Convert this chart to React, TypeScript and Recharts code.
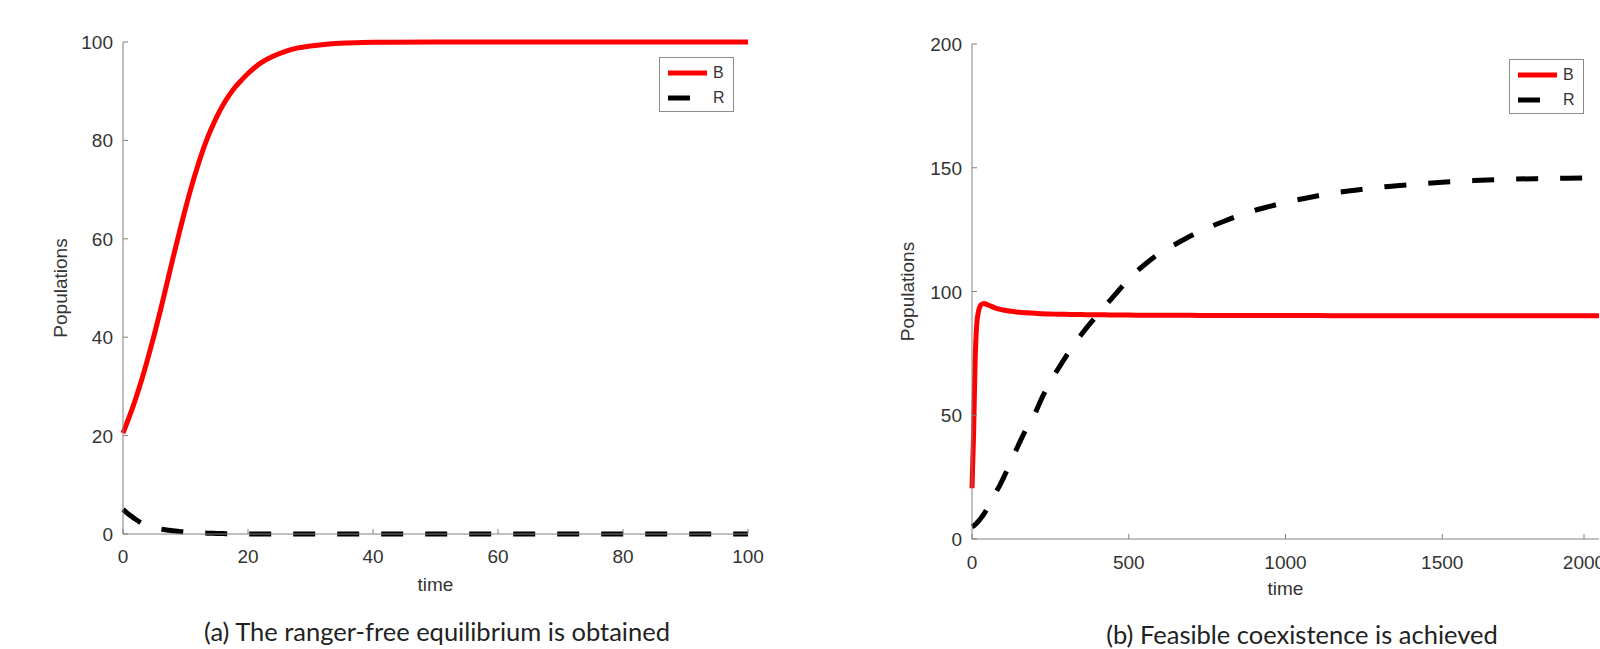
import { LineChart, Line, XAxis, YAxis, Legend, Label } from 'recharts'

const FONT = '"Liberation Sans", Arial, Helvetica, sans-serif'
const AXIS = '#808080'
const TEXT = '#333333'

// panel (a): ranger-free equilibrium
const timeA = [0, 1, 2, 3, 4, 5, 6, 7, 8, 9, 10, 11, 12, 13, 14, 15, 16, 17, 18, 19, 20, 22, 24, 26, 28, 30, 33, 36, 40, 50, 60, 70, 80, 90, 100]
const bA = [20.5, 23.8, 27.4, 31.4, 35.8, 40.5, 45.5, 50.8, 56.1, 61.2, 66.2, 70.8, 75, 78.8, 82, 84.8, 87.2, 89.2, 90.9, 92.3, 93.6, 95.7, 97.1, 98.1, 98.8, 99.2, 99.6, 99.8, 99.95, 100, 100, 100, 100, 100, 100]
const rA = [5, 3.9, 3, 2.2, 1.6, 1.3, 1, 0.8, 0.65, 0.5, 0.4, 0.3, 0.25, 0.2, 0.15, 0.1, 0.08, 0.06, 0.05, 0.04, 0.02, 0, 0, 0, 0, 0, 0, 0, 0, 0, 0, 0, 0, 0, 0]
const xTicksA = [0, 20, 40, 60, 80, 100]
const yTicksA = [0, 20, 40, 60, 80, 100]

// panel (b): coexistence
const timeB = [0, 5, 10, 15, 20, 25, 30, 38, 50, 60, 75, 90, 100, 125, 150, 175, 200, 225, 250, 275, 300, 325, 350, 375, 400, 425, 450, 500, 550, 600, 650, 700, 750, 800, 850, 900, 950, 1000, 1100, 1200, 1300, 1400, 1500, 1600, 1700, 1800, 1900, 2000]
const bB = [20.5, 42, 72, 86.5, 91.5, 93.9, 94.8, 95.2, 94.6, 94.1, 93.3, 92.8, 92.5, 92, 91.6, 91.4, 91.2, 91, 90.9, 90.8, 90.8, 90.7, 90.7, 90.6, 90.6, 90.6, 90.5, 90.5, 90.4, 90.4, 90.4, 90.4, 90.3, 90.3, 90.3, 90.3, 90.3, 90.3, 90.3, 90.2, 90.2, 90.2, 90.2, 90.2, 90.2, 90.2, 90.2, 90.2]
const rB = [5, 5.3, 5.8, 6.4, 7.1, 7.9, 8.7, 10.1, 12.6, 15, 18.6, 22, 24.6, 31.5, 38.5, 45, 50.5, 57.5, 63.5, 68.8, 73.8, 78.5, 82.8, 86.8, 90.5, 94.2, 97.8, 105, 110.8, 115.6, 119.2, 122.6, 125.6, 128.2, 130.6, 132.7, 134.4, 136, 138.6, 140.6, 142.1, 143.2, 144.1, 144.8, 145.3, 145.6, 145.8, 146]
const xTicksB = [0, 500, 1000, 1500, 2000]
const yTicksB = [0, 50, 100, 150, 200]

const dataA = timeA.map((t, i) => ({ t, B: bA[i], R: rA[i] }))
const dataB = timeB.map((t, i) => ({ t, B: bB[i], R: rB[i] }))

function XTick({ x, y, payload, gap }: any) {
  return (
    <g>
      <line x1={x} y1={y} x2={x} y2={y - 5} stroke={AXIS} />
      <text x={x} y={y + gap} textAnchor="middle" fill={TEXT} fontSize={19} fontFamily={FONT}>
        {payload.value}
      </text>
    </g>
  )
}

function YTick({ x, y, payload }: any) {
  return (
    <g>
      <line x1={x} y1={y} x2={x + 5} y2={y} stroke={AXIS} />
      <text x={x - 10} y={y + 7} textAnchor="end" fill={TEXT} fontSize={19} fontFamily={FONT}>
        {payload.value}
      </text>
    </g>
  )
}

const renderLegend = (props: any) => {
  const items = props.payload || []
  return (
    <div style={{ width: 73, height: 53, border: '1px solid #8c8c8c', background: '#fff', position: 'relative' }}>
      {items.map((entry: any, i: number) => (
        <div key={entry.value} style={{ position: 'absolute', left: 0, top: 5 + i * 24.5, height: 20, display: 'flex', alignItems: 'center' }}>
          <svg width={52} height={20}>
            <line x1={8} y1={10} x2={47} y2={10} stroke={entry.color} strokeWidth={5}
              strokeDasharray={entry.payload?.strokeDasharray} />
          </svg>
          <span style={{ fontFamily: FONT, fontSize: 16, color: TEXT, marginLeft: 1 }}>{entry.value}</span>
        </div>
      ))}
    </div>
  )
}

const timeLabel = (dy: number) => (p: any) => {
  const vb = p.viewBox
  return (
    <text x={vb.x + vb.width / 2} y={vb.y + dy} textAnchor="middle" fill={TEXT} fontSize={19} fontFamily={FONT}>
      time
    </text>
  )
}

const popLabel = (cx: number) => (p: any) => {
  const vb = p.viewBox
  const cy = vb.y + vb.height / 2
  return (
    <text x={cx} y={cy} transform={`rotate(-90, ${cx}, ${cy})`} textAnchor="middle" fill={TEXT} fontSize={19} fontFamily={FONT}>
      Populations
    </text>
  )
}

const captionStyle = {
  position: 'absolute' as const,
  fontFamily: 'Lato, "Open Sans", sans-serif',
  fontSize: 25.5,
  lineHeight: '30px',
  color: '#222',
  whiteSpace: 'nowrap' as const,
  transform: 'translate(-50%, -50%)',
}

export default function App() {
  return (
    <div style={{ position: 'absolute', left: 0, top: 0, width: 1600, height: 649, background: '#fff', overflow: 'hidden' }}>
      <div style={{ position: 'absolute', left: 0, top: 0 }}>
        <LineChart width={800} height={649} data={dataA} margin={{ top: 42, right: 52, bottom: 0, left: 0 }}>
          <XAxis dataKey="t" type="number" domain={[0, 100]} ticks={xTicksA} height={115}
            axisLine={{ stroke: AXIS }} tickLine={false} tickSize={0} tickMargin={0}
            tick={(p: any) => <XTick {...p} gap={29} />}>
            <Label content={timeLabel(57)} />
          </XAxis>
          <YAxis type="number" domain={[0, 100]} ticks={yTicksA} width={123}
            axisLine={{ stroke: AXIS }} tickLine={false} tickSize={0} tickMargin={0}
            tick={(p: any) => <YTick {...p} />}>
            <Label content={popLabel(67)} />
          </YAxis>
          <Legend layout="vertical" align="center" verticalAlign="middle" content={renderLegend}
            wrapperStyle={{ left: 659, top: 57, width: 75, height: 55 }} />
          <Line type="monotone" dataKey="B" name="B" stroke="#ff0000" strokeWidth={5} dot={false} isAnimationActive={false} />
          <Line type="monotone" dataKey="R" name="R" stroke="#000000" strokeWidth={5} strokeDasharray="22 22" dot={false} isAnimationActive={false} />
        </LineChart>
      </div>
      <div style={{ position: 'absolute', left: 800, top: 0 }}>
        <LineChart width={800} height={649} data={dataB} margin={{ top: 44, right: 1, bottom: 0, left: 0 }}>
          <XAxis dataKey="t" type="number" domain={[0, 2000]} ticks={xTicksB} height={110}
            axisLine={{ stroke: AXIS }} tickLine={false} tickSize={0} tickMargin={0}
            tick={(p: any) => <XTick {...p} gap={30} />}>
            <Label content={timeLabel(56)} />
          </XAxis>
          <YAxis type="number" domain={[0, 200]} ticks={yTicksB} width={172}
            axisLine={{ stroke: AXIS }} tickLine={false} tickSize={0} tickMargin={0}
            tick={(p: any) => <YTick {...p} />}>
            <Label content={popLabel(114)} />
          </YAxis>
          <Legend layout="vertical" align="center" verticalAlign="middle" content={renderLegend}
            wrapperStyle={{ left: 709, top: 59, width: 75, height: 55 }} />
          <Line type="monotone" dataKey="B" name="B" stroke="#ff0000" strokeWidth={5} dot={false} isAnimationActive={false} />
          <Line type="monotone" dataKey="R" name="R" stroke="#000000" strokeWidth={5} strokeDasharray="22 22" dot={false} isAnimationActive={false} />
        </LineChart>
      </div>
      <div style={{ ...captionStyle, left: 437, top: 631 }}>(a) The ranger-free equilibrium is obtained</div>
      <div style={{ ...captionStyle, left: 1302, top: 634 }}>(b) Feasible coexistence is achieved</div>
    </div>
  )
}
